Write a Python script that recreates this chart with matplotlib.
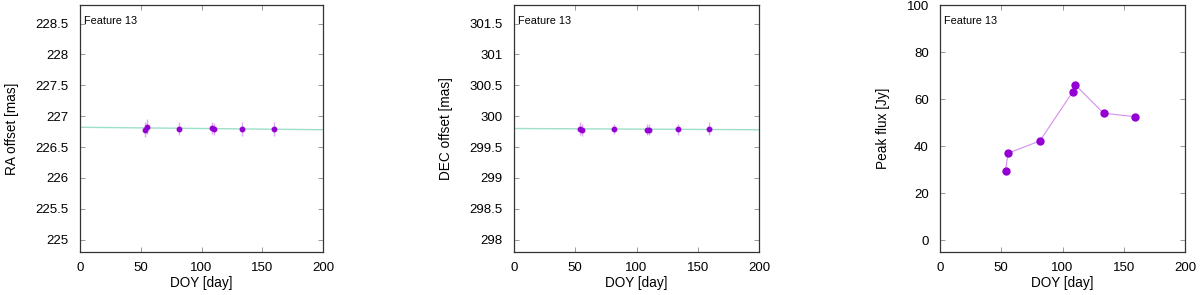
import matplotlib
matplotlib.use('Agg')
import matplotlib.pyplot as plt
import numpy as np

plt.rcParams['font.family'] = ['Liberation Sans', 'DejaVu Sans']

# ---- data -----------------------------------------------------------------
doy = [53.5, 55.5, 81.5, 108.5, 110.5, 133.5, 159.5]
ra = [226.78, 226.83, 226.80, 226.81, 226.79, 226.79, 226.79]
ra_err = [0.12, 0.12, 0.10, 0.10, 0.10, 0.11, 0.11]
dec = [299.80, 299.78, 299.79, 299.78, 299.78, 299.79, 299.80]
dec_err = [0.10, 0.10, 0.08, 0.09, 0.09, 0.09, 0.11]
flux = [29.5, 37.0, 42.2, 63.2, 66.0, 54.0, 52.5]
fit_x = [0, 200]
ra_fit = [226.82, 226.78]
dec_fit = [299.80, 299.78]

PURPLE = '#9400d3'
ERRC = '#dcaaf2'
FITC = '#9edfc9'

fig = plt.figure(figsize=(12, 2.95), dpi=100)
axes = [fig.add_axes([80/1200, 1-252/295, 243/1200, 247/295]),
        fig.add_axes([514/1200, 1-252/295, 245/1200, 247/295]),
        fig.add_axes([940/1200, 1-252/295, 245/1200, 247/295])]


def style(ax):
    ax.tick_params(direction='in', top=True, right=True, length=3.5,
                   width=0.6, color='#888888', labelsize=9.5)
    ax.tick_params(axis='y', pad=8)
    ax.tick_params(axis='x', pad=7)
    for sp in ax.spines.values():
        sp.set_linewidth(0.9)
        sp.set_color('#333333')
    ax.set_xlim(0, 200)
    ax.set_xticks([0, 50, 100, 150, 200])
    ax.set_xlabel('DOY [day]', fontsize=9.8, labelpad=2)
    ax.text(0.015, 0.955, 'Feature 13', transform=ax.transAxes, fontsize=7.8,
            va='top', ha='left')


# RA panel
ax = axes[0]
style(ax)
ax.plot(fit_x, ra_fit, color=FITC, lw=1.0, zorder=1)
ax.errorbar(doy, ra, yerr=ra_err, fmt='o', ms=3.2, color=PURPLE,
            ecolor=ERRC, elinewidth=1.0, capsize=0, zorder=3)
ax.set_ylim(224.8, 228.8)
ax.set_yticks([225, 225.5, 226, 226.5, 227, 227.5, 228, 228.5])
ax.set_yticklabels(['225', '225.5', '226', '226.5', '227', '227.5', '228', '228.5'])
ax.set_ylabel('RA offset [mas]', fontsize=9.8, labelpad=12)

# DEC panel
ax = axes[1]
style(ax)
ax.plot(fit_x, dec_fit, color=FITC, lw=1.0, zorder=1)
ax.errorbar(doy, dec, yerr=dec_err, fmt='o', ms=3.2, color=PURPLE,
            ecolor=ERRC, elinewidth=1.0, capsize=0, zorder=3)
ax.set_ylim(297.8, 301.8)
ax.set_yticks([298, 298.5, 299, 299.5, 300, 300.5, 301, 301.5])
ax.set_yticklabels(['298', '298.5', '299', '299.5', '300', '300.5', '301', '301.5'])
ax.set_ylabel('DEC offset [mas]', fontsize=9.8, labelpad=12)

# Peak flux panel
ax = axes[2]
style(ax)
ax.plot(doy, flux, color='#d68ef0', lw=0.8, zorder=2)
ax.plot(doy, flux, 'o', ms=5, color=PURPLE, zorder=3)
ax.set_ylim(-5, 100)
ax.set_yticks([0, 20, 40, 60, 80, 100])
ax.set_ylabel('Peak flux [Jy]', fontsize=9.8, labelpad=12)

fig.savefig('out.png', dpi=100)
